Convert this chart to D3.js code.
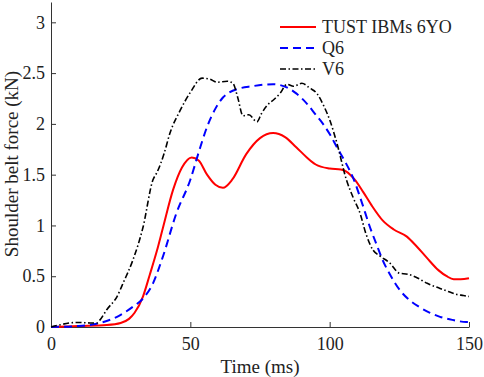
<!DOCTYPE html>
<html>
<head>
<meta charset="utf-8">
<script src="https://cdn.jsdelivr.net/npm/d3@7"></script>
<style>
  body { margin: 0; background: #fff; }
</style>
</head>
<body>
<div id="chart"></div>
<script>
// series (time in ms, force in kN)
var tustTime = [0, 10, 20, 25, 28, 30, 33, 35.5, 38, 40.2, 43.8, 47, 50.5, 53, 56, 59, 61.7, 65, 70, 75, 79.7, 84, 88, 91.8, 95, 100, 104, 106, 109, 112, 115, 119, 123, 127.7, 131, 134.9, 139, 142, 144.5, 147, 150];
var tustVals = [0, 0.01, 0.02, 0.04, 0.08, 0.14, 0.3, 0.52, 0.75, 0.98, 1.35, 1.57, 1.67, 1.64, 1.5, 1.4, 1.37, 1.45, 1.7, 1.86, 1.91, 1.87, 1.77, 1.67, 1.6, 1.56, 1.55, 1.53, 1.45, 1.33, 1.2, 1.05, 0.96, 0.89, 0.8, 0.68, 0.56, 0.5, 0.47, 0.47, 0.48];

var q6Time = [0, 10, 17.6, 23.7, 29.4, 33, 36.6, 40, 45, 50, 53, 56, 59, 61.7, 64, 67.8, 72, 76, 79.7, 84.6, 88, 91.8, 95, 97.6, 100, 102.6, 105.5, 108.4, 111.5, 114.5, 117, 119, 122, 125, 128, 132, 136, 139.6, 144, 149, 150];
var q6Vals = [0, 0.01, 0.04, 0.1, 0.2, 0.28, 0.43, 0.68, 1.12, 1.45, 1.72, 1.97, 2.15, 2.26, 2.31, 2.35, 2.37, 2.385, 2.39, 2.36, 2.3, 2.2, 2.09, 2.0, 1.9, 1.77, 1.63, 1.47, 1.23, 0.98, 0.8, 0.66, 0.5, 0.37, 0.28, 0.2, 0.14, 0.1, 0.07, 0.05, 0.05];

var v6Time = [0, 3, 6.8, 10, 14, 16.5, 17.6, 20, 23.7, 26, 29.4, 33, 36.6, 38, 40.5, 42.7, 46.3, 50, 54.2, 57, 59.6, 63.2, 65.3, 67, 68.9, 71, 73.9, 75.5, 77.5, 80, 82.2, 84.7, 87, 90, 93, 95.4, 98, 100, 102.6, 106, 108.5, 110.9, 113, 115.5, 118, 121.6, 125, 128, 131, 135, 139.6, 142.5, 145.7, 148, 150];
var v6Vals = [0, 0.02, 0.04, 0.045, 0.04, 0.04, 0.07, 0.17, 0.3, 0.44, 0.66, 0.98, 1.45, 1.52, 1.7, 1.91, 2.13, 2.31, 2.45, 2.44, 2.41, 2.42, 2.4, 2.26, 2.08, 2.09, 2.02, 2.1, 2.18, 2.24, 2.3, 2.39, 2.37, 2.4, 2.35, 2.3, 2.17, 2.04, 1.81, 1.45, 1.27, 1.12, 0.92, 0.76, 0.7, 0.63, 0.53, 0.52, 0.49, 0.43, 0.38, 0.35, 0.32, 0.31, 0.3];

var legendNames = ["TUST IBMs 6YO", "Q6", "V6"];
var xTicks = [0, 50, 100, 150];
var yTicks = [0, 0.5, 1, 1.5, 2, 2.5, 3];

var serif = "'Liberation Serif', 'Times New Roman', Times, serif";
var width = 484, height = 377;

var svg = d3.select("#chart")
  .append("svg")
  .attr("width", width)
  .attr("height", height)
  .style("font-family", serif);

var x = d3.scaleLinear().domain([0, 150]).range([51, 469]);
var y = d3.scaleLinear().domain([0, 3.2]).range([327, 2]);

// axes, MATLAB style: ticks pointing into the plot
var xAxis = svg.append("g")
  .attr("transform", "translate(0," + y(0) + ")")
  .call(d3.axisBottom(x).tickValues(xTicks).tickSizeInner(-5).tickSizeOuter(0).tickPadding(10).tickFormat(d3.format("d")));

var yAxis = svg.append("g")
  .attr("transform", "translate(" + x(0) + ",0)")
  .call(d3.axisLeft(y).tickValues(yTicks).tickSizeInner(-5).tickSizeOuter(0).tickPadding(6).tickFormat(function (d) { return d; }));

svg.selectAll(".tick text")
  .attr("font-family", null)
  .style("font-family", serif)
  .style("font-size", "18px")
  .attr("fill", "#222");
xAxis.attr("font-family", null);
yAxis.attr("font-family", null);

svg.selectAll(".domain, .tick line").attr("stroke", "#333").attr("stroke-width", 1);

// axis titles
svg.append("text")
  .attr("x", 260)
  .attr("y", 373)
  .attr("text-anchor", "middle")
  .style("font-family", serif)
  .style("font-size", "19px")
  .attr("fill", "#222")
  .text("Time (ms)");

svg.append("text")
  .attr("transform", "translate(18,164) rotate(-90)")
  .attr("text-anchor", "middle")
  .style("font-family", serif)
  .style("font-size", "19px")
  .attr("fill", "#222")
  .text("Shoulder belt force (kN)");

var line = d3.line()
  .x(function (d) { return x(d[0]); })
  .y(function (d) { return y(d[1]); })
  .curve(d3.curveMonotoneX);

var series = [
  {t: tustTime, v: tustVals, color: "#ff0000", dash: null, w: 2},
  {t: q6Time, v: q6Vals, color: "#0000ff", dash: "8,5", w: 2},
  {t: v6Time, v: v6Vals, color: "#000000", dash: "6,2.5,1.5,2.5", w: 1.6}
];

var plot = svg.append("g");
for (var i = 0; i < series.length; i++) {
  var s = series[i];
  var pts = s.t.map(function (tt, j) { return [tt, s.v[j]]; });
  plot.append("path")
    .datum(pts)
    .attr("fill", "none")
    .attr("stroke", s.color)
    .attr("stroke-width", s.w)
    .attr("stroke-dasharray", s.dash)
    .attr("d", line);
}

// legend
var legend = svg.append("g");
for (var i = 0; i < legendNames.length; i++) {
  var ly = 27 + i * 21;
  legend.append("line")
    .attr("x1", 280).attr("x2", 316)
    .attr("y1", ly).attr("y2", ly)
    .attr("stroke", series[i].color)
    .attr("stroke-width", series[i].w)
    .attr("stroke-dasharray", series[i].dash);
  legend.append("text")
    .attr("x", 322)
    .attr("y", ly)
    .attr("dy", "0.35em")
    .style("font-family", serif)
    .style("font-size", "18px")
    .attr("fill", "#222")
    .text(legendNames[i]);
}
</script>
</body>
</html>
